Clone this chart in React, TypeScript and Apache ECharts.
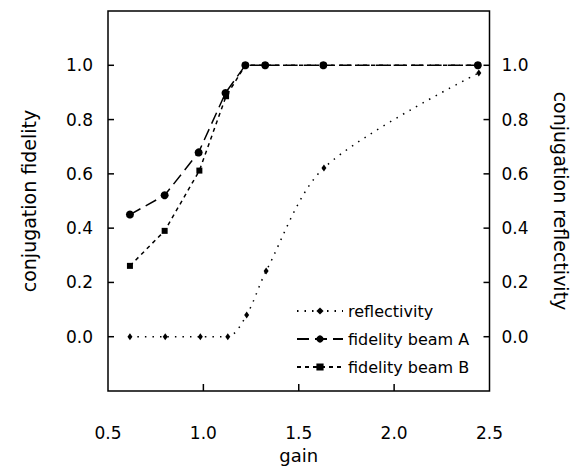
import React, { useEffect, useRef } from 'react';
import * as echarts from 'echarts';

const xTickValues = [0.5, 1.0, 1.5, 2.0, 2.5];
const yTickValues = [0.0, 0.2, 0.4, 0.6, 0.8, 1.0];

const gainA = [0.615, 0.797, 0.975, 1.116, 1.22, 1.324, 1.629, 2.439];
const fidelityA = [0.45, 0.521, 0.679, 0.898, 1.0, 1.0, 1.0, 1.0];

const gainB = [0.615, 0.797, 0.979, 1.119, 1.22, 1.324, 1.629, 2.439];
const fidelityB = [0.261, 0.39, 0.612, 0.886, 1.0, 1.0, 1.0, 1.0];

const gainR = [0.615, 0.8, 0.984, 1.128, 1.227, 1.329, 1.632, 2.444];
const reflectivity = [0.0, 0.0, 0.0, 0.0, 0.08, 0.242, 0.622, 0.972];

const seriesNames = ['reflectivity', 'fidelity beam A', 'fidelity beam B'];

const FONT = 'DejaVu Sans';
const X_MIN = 0.5;
const X_MAX = 2.5;
const Y_MIN = -0.2;
const Y_MAX = 1.2;

function pairs(xs: number[], ys: number[]) {
  return xs.map((x, i) => [x, ys[i]]);
}

function tickSeries(data: number[][], dx: number, dy: number) {
  return {
    type: 'custom',
    coordinateSystem: 'cartesian2d',
    xAxisIndex: 0,
    yAxisIndex: 0,
    silent: true,
    clip: false,
    z: 6,
    data,
    renderItem: (_params: any, api: any) => {
      const c = api.coord([api.value(0), api.value(1)]);
      return {
        type: 'line',
        shape: { x1: c[0], y1: c[1], x2: c[0] + dx, y2: c[1] + dy },
        style: { stroke: '#000', lineWidth: 1.5 },
      };
    },
  };
}

export default function App() {
  const ref = useRef<HTMLDivElement>(null);
  useEffect(() => {
    if (!ref.current) return;
    const chart = echarts.init(ref.current, null, { renderer: 'svg' });
    const yLabelFmt = (v: number) => {
      const hit = yTickValues.some((t) => Math.abs(t - v) < 1e-6);
      return hit ? v.toFixed(1) : '';
    };
    const xLabelFmt = (v: number) => {
      const hit = xTickValues.some((t) => Math.abs(t - v) < 1e-6);
      return hit ? v.toFixed(1) : '';
    };
    const yAxisBase = {
      type: 'value',
      min: Y_MIN,
      max: Y_MAX,
      interval: 0.2,
      nameLocation: 'middle',
      nameTextStyle: { fontFamily: FONT, fontSize: 19, color: '#000' },
      axisLine: { show: false, onZero: false },
      axisTick: { show: false },
      splitLine: { show: false },
    };
    const innerX = xTickValues.filter((v) => v > X_MIN && v < X_MAX);
    chart.setOption({
      animation: false,
      backgroundColor: '#fff',
      grid: {
        left: 108,
        right: 87.5,
        top: 11,
        bottom: 78,
        containLabel: false,
        outerBoundsMode: 'none',
        show: true,
        borderColor: '#000',
        borderWidth: 1.5,
        backgroundColor: 'transparent',
      },
      xAxis: {
        type: 'value',
        position: 'bottom',
        min: X_MIN,
        max: X_MAX,
        interval: 0.5,
        name: 'gain',
        nameLocation: 'middle',
        nameGap: 55,
        nameTextStyle: { fontFamily: FONT, fontSize: 18, color: '#000' },
        axisLine: { show: false, onZero: false },
        axisTick: { show: false },
        axisLabel: { margin: 33, fontFamily: FONT, fontSize: 17, color: '#000', formatter: xLabelFmt, showMinLabel: true, showMaxLabel: true },
        splitLine: { show: false },
      },
      yAxis: [
        {
          ...yAxisBase,
          position: 'left',
          name: 'conjugation fidelity',
          nameGap: 70,
          axisLabel: { margin: 15, fontFamily: FONT, fontSize: 17, color: '#000', formatter: yLabelFmt },
        },
        {
          ...yAxisBase,
          position: 'right',
          name: 'conjugation reflectivity',
          nameGap: 62,
          nameRotate: -90,
          axisLabel: { margin: 12, fontFamily: FONT, fontSize: 17, color: '#000', formatter: yLabelFmt },
        },
      ],
      legend: {
        orient: 'vertical',
        left: 291,
        top: 298,
        itemWidth: 46,
        itemHeight: 9,
        itemGap: 12,
        data: seriesNames,
        textStyle: { fontFamily: FONT, fontSize: 16, color: '#000' },
      },
      series: [
        {
          name: seriesNames[0],
          type: 'line',
          yAxisIndex: 1,
          data: pairs(gainR, reflectivity),
          smooth: 0.3,
          symbol: 'diamond',
          symbolSize: [5, 7],
          itemStyle: { color: '#000' },
          lineStyle: { color: '#000', width: 1.5, type: [1.5, 6] },
          z: 2,
        },
        {
          name: seriesNames[1],
          type: 'line',
          yAxisIndex: 0,
          data: pairs(gainA, fidelityA),
          symbol: 'circle',
          symbolSize: 8,
          itemStyle: { color: '#000' },
          lineStyle: { color: '#000', width: 1.5, type: [12, 6] },
          z: 4,
        },
        {
          name: seriesNames[2],
          type: 'line',
          yAxisIndex: 0,
          data: pairs(gainB, fidelityB),
          symbol: 'rect',
          symbolSize: 6,
          itemStyle: { color: '#000' },
          lineStyle: { color: '#000', width: 1.5, type: [4, 4] },
          z: 3,
        },
        tickSeries(innerX.map((v) => [v, Y_MIN]), 0, -7),
        tickSeries(yTickValues.map((v) => [X_MIN, v]), 6, 0),
        tickSeries(yTickValues.map((v) => [X_MAX, v]), -6, 0),
      ],
    });
    return () => chart.dispose();
  }, []);
  return <div ref={ref} style={{ width: 577, height: 469, position: 'absolute', left: 0, top: 0 }} />;
}
